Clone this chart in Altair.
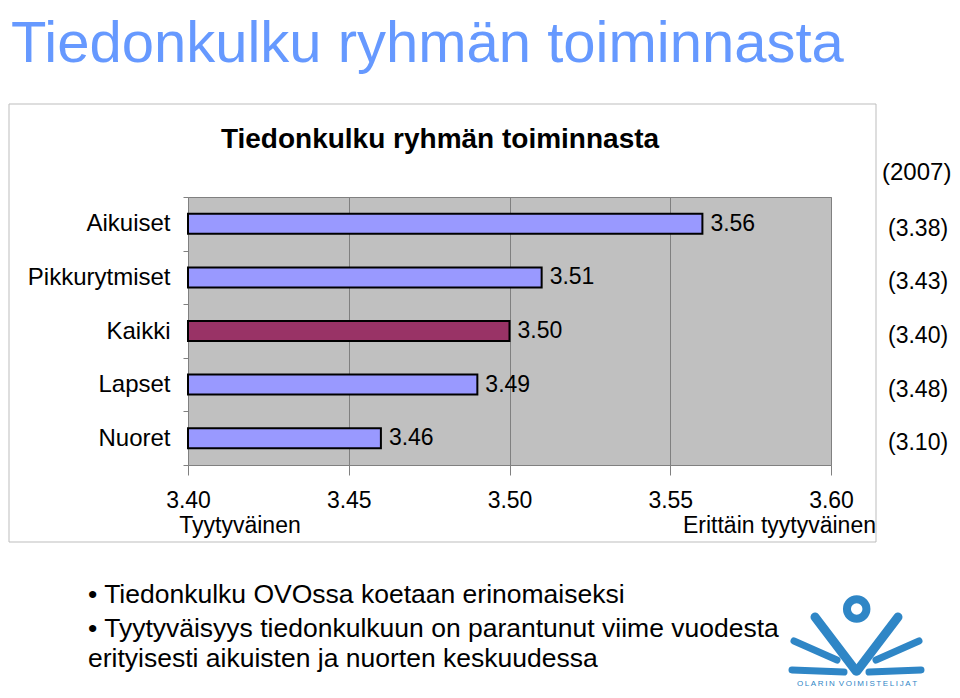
import altair as alt
import pandas as pd

# ---- data ----
categories = ["Aikuiset", "Pikkurytmiset", "Kaikki", "Lapset", "Nuoret"]
values_now = [3.56, 3.51, 3.50, 3.49, 3.46]
values_2007 = [3.38, 3.43, 3.40, 3.48, 3.10]
bar_colors = ["#9999FF", "#9999FF", "#993366", "#9999FF", "#9999FF"]
x_ticks = [3.40, 3.45, 3.50, 3.55, 3.60]
x_domain = [3.40, 3.60]

page_title = "Tiedonkulku ryhmän toiminnasta"
chart_title = "Tiedonkulku ryhmän toiminnasta"
prev_header = "(2007)"
low_label = "Tyytyväinen"
high_label = "Erittäin tyytyväinen"
bullets = [
    "• Tiedonkulku OVOssa koetaan erinomaiseksi",
    "• Tyytyväisyys tiedonkulkuun on parantunut viime vuodesta",
    "erityisesti aikuisten ja nuorten keskuudessa",
]
logo_text = "\u2009".join("OLARIN") + "\u2002" + "\u2009".join("VOIMISTELIJAT")

FONT = "Liberation Sans"
LOGO_BLUE = "#2F86C6"

df = pd.DataFrame({
    "Ryhmä": categories,
    "Arvo": values_now,
    "Arvo2007": values_2007,
})
df["Arvoteksti"] = df["Arvo"].map(lambda v: f"{v:.2f}")
df["Teksti2007"] = df["Arvo2007"].map(lambda v: f"({v:.2f})")
df["Pohja"] = x_domain[0]

base = alt.Chart(df)

y_enc = alt.Y(
    "Ryhmä:N",
    sort=categories,
    title=None,
    scale=alt.Scale(paddingInner=0, paddingOuter=0),
    axis=alt.Axis(
        domain=False,
        grid=False,
        tickBand="extent",
        tickSize=5,
        tickColor="#808080",
        labelPadding=13,
        labelFontSize=24,
        labelColor="black",
        labelFont=FONT,
    ),
)

x_enc = alt.X(
    "Arvo:Q",
    title=None,
    scale=alt.Scale(domain=x_domain, zero=False, nice=False),
    axis=alt.Axis(
        values=x_ticks,
        format=".2f",
        domain=False,
        grid=True,
        gridColor="#808080",
        gridWidth=1,
        tickSize=10,
        tickColor="#808080",
        labelFontSize=23,
        labelColor="black",
        labelFont=FONT,
        labelBaseline="alphabetic",
        labelPadding=32,
        labelFlush=False,
    ),
)

bars = base.mark_bar(height=20, stroke="black", strokeWidth=2).encode(
    x=x_enc,
    x2="Pohja:Q",
    y=y_enc,
    color=alt.Color("Ryhmä:N", scale=alt.Scale(domain=categories, range=bar_colors), legend=None),
)

value_labels = base.mark_text(
    align="left", baseline="middle", dx=8, fontSize=23, font=FONT, color="black"
).encode(
    x="Arvo:Q",
    y=alt.Y("Ryhmä:N", sort=categories),
    text="Arvoteksti:N",
)

prev_labels = base.mark_text(
    align="left", baseline="middle", dy=5, fontSize=23, font=FONT, color="black"
).encode(
    x=alt.value(700),
    y=alt.Y("Ryhmä:N", sort=categories),
    text="Teksti2007:N",
)

one = alt.Chart(pd.DataFrame({"k": [0]}))


def label(text, x, y, size, align="left", weight="normal", color="black", baseline="alphabetic"):
    return one.mark_text(
        text=text, align=align, baseline=baseline, fontSize=size,
        fontWeight=weight, font=FONT, color=color,
    ).encode(x=alt.value(x), y=alt.value(y))


frame = one.mark_rect(fill=None, filled=False, stroke="#BDBDBD", strokeWidth=1).encode(
    x=alt.value(-179), x2=alt.value(688), y=alt.value(-93), y2=alt.value(345)
)

texts = [
    label(page_title, -177, -135, 58, color="#6699FF"),
    label(chart_title, 252, -49, 28, align="center", weight="bold"),
    label(prev_header, 694, -17, 24),
    label(low_label, 52, 336, 23, align="center"),
    label(high_label, 688, 336, 23, align="right"),
    label(bullets[0], -100, 406, 26.5),
    label(bullets[1], -100, 440, 26.5),
    label(bullets[2], -100, 470, 26.5),
    label(logo_text, 669, 489, 8, align="center", color=LOGO_BLUE),
]

ring = one.mark_point(shape="circle", filled=False, size=380, strokeWidth=8, color=LOGO_BLUE, opacity=1).encode(
    x=alt.value(668.7), y=alt.value(412)
)


def stroke(x1, y1, x2, y2, w):
    return one.mark_rule(color=LOGO_BLUE, strokeWidth=w, strokeCap="round").encode(
        x=alt.value(x1), x2=alt.value(x2), y=alt.value(y1), y2=alt.value(y2)
    )


logo = [
    ring,
    stroke(627, 420, 668, 474, 9),
    stroke(710, 420, 669, 474, 9),
    stroke(606, 444, 649, 463, 7),
    stroke(731, 444, 688, 463, 7),
    stroke(604, 473, 656, 475, 7),
    stroke(733, 473, 681, 475, 7),
]

chart = alt.layer(frame, bars, value_labels, prev_labels, *texts, *logo).properties(
    width=643,
    height=268,
    padding={"left": 180, "top": 189, "right": 121, "bottom": 225},
    autosize=alt.AutoSizeParams(type="none"),
    background="white",
).configure_view(
    fill="#C0C0C0", stroke="#808080", strokeWidth=1
).configure_text(font=FONT)

chart.save("out.html", embed_options={"renderer": "svg", "actions": False})
